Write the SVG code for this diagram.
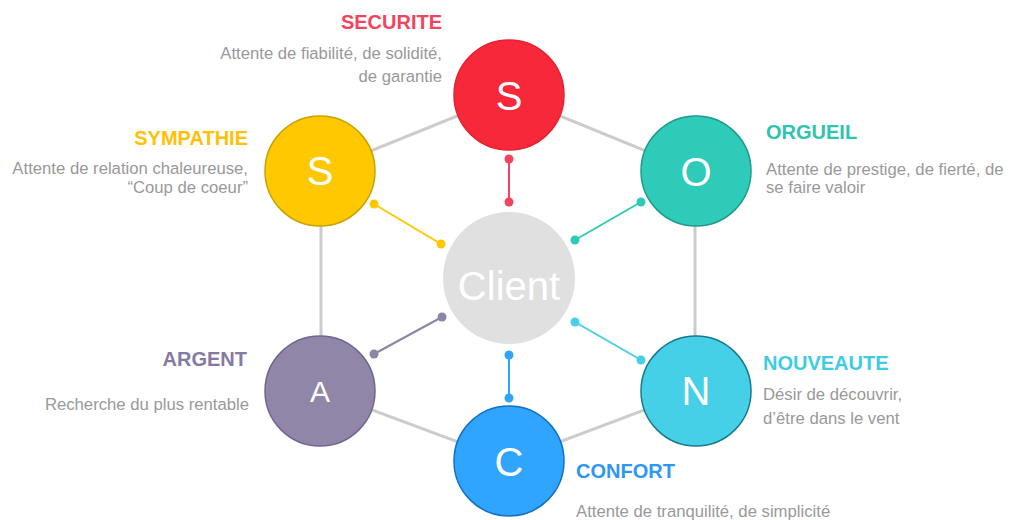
<svg xmlns="http://www.w3.org/2000/svg" width="1018" height="520" viewBox="0 0 1018 520">
<style>
text{font-family:"Liberation Sans",Arial,sans-serif}
.t{font-size:20px;font-weight:bold}
.d{font-size:16.7px;fill:#999999}
.L{fill:#ffffff;text-anchor:middle}
.hex{stroke:#cccccc;stroke-width:3;fill:none}
.sp{stroke-width:2;fill:none}
.node circle{stroke-width:1.5}
</style>
<rect width="1018" height="520" fill="#ffffff"/>
<g id="connectors">
<path class="hex" d="M509 95 L321 171 L321 391 L509 461 L695 391 L695 171 Z"/>
<g>
<line class="sp" x1="509" y1="159" x2="509" y2="202" stroke="#F2445F"/>
<circle cx="509" cy="159" r="4.5" fill="#F2445F"/><circle cx="509" cy="202" r="4.5" fill="#F2445F"/>
<line class="sp" x1="374" y1="204" x2="441" y2="244" stroke="#FFC800"/>
<circle cx="374" cy="204" r="4.5" fill="#FFC800"/><circle cx="441" cy="244" r="4.5" fill="#FFC800"/>
<line class="sp" x1="641" y1="202" x2="575" y2="240" stroke="#2DCBB8"/>
<circle cx="641" cy="202" r="4.5" fill="#2DCBB8"/><circle cx="575" cy="240" r="4.5" fill="#2DCBB8"/>
<line class="sp" x1="374" y1="354" x2="442" y2="317" stroke="#8E85A6"/>
<circle cx="374" cy="354" r="4.5" fill="#8E85A6"/><circle cx="442" cy="317" r="4.5" fill="#8E85A6"/>
<line class="sp" x1="575" y1="322" x2="641" y2="360" stroke="#45D0E8"/>
<circle cx="575" cy="322" r="4.5" fill="#45D0E8"/><circle cx="641" cy="360" r="4.5" fill="#45D0E8"/>
<line class="sp" x1="509" y1="355" x2="509" y2="398" stroke="#30A5FF"/>
<circle cx="509" cy="355" r="4.5" fill="#30A5FF"/><circle cx="509" cy="398" r="4.5" fill="#30A5FF"/>
</g>
</g>
<g id="client" class="node">
<circle cx="509" cy="278" r="66" fill="#E0E0E0" stroke="none"/>
<text class="L" x="509" y="300" font-size="40">Client</text>
</g>
<g id="securite" class="node">
<circle cx="509" cy="95" r="55" fill="#F72839" stroke="#E32232"/>
<text class="L" x="509" y="110" font-size="40">S</text>
<text class="t" x="442" y="29" fill="#F2445F" text-anchor="end">SECURITE</text>
<text class="d" x="442" y="59" text-anchor="end">Attente de fiabilité, de solidité,</text>
<text class="d" x="442" y="82" text-anchor="end">de garantie</text>
</g>
<g id="sympathie" class="node">
<circle cx="320" cy="171" r="55" fill="#FFC800" stroke="#C9A200"/>
<text class="L" x="320" y="185" font-size="40">S</text>
<text class="t" x="248" y="145" fill="#FFC107" text-anchor="end">SYMPATHIE</text>
<text class="d" x="248" y="174" text-anchor="end">Attente de relation chaleureuse,</text>
<text class="d" x="248" y="193" text-anchor="end">“Coup de coeur”</text>
</g>
<g id="orgueil" class="node">
<circle cx="696" cy="171" r="55" fill="#2DCBB8" stroke="#1E9A8A"/>
<text class="L" x="696" y="186" font-size="40">O</text>
<text class="t" x="766" y="139" fill="#2EC4AE">ORGUEIL</text>
<text class="d" x="766" y="175" >Attente de prestige, de fierté, de</text>
<text class="d" x="766" y="193" >se faire valoir</text>
</g>
<g id="argent" class="node">
<circle cx="320" cy="391" r="55" fill="#9087A8" stroke="#6E6690"/>
<text class="L" x="320" y="402" font-size="30">A</text>
<text class="t" x="247" y="366" fill="#857AA0" text-anchor="end">ARGENT</text>
<text class="d" x="249" y="410" text-anchor="end">Recherche du plus rentable</text>
</g>
<g id="nouveaute" class="node">
<circle cx="696" cy="391" r="55" fill="#45D0E8" stroke="#177B8C"/>
<text class="L" x="696" y="405" font-size="40">N</text>
<text class="t" x="763" y="370" fill="#3ECCE3">NOUVEAUTE</text>
<text class="d" x="763" y="400">Désir de découvrir,</text>
<text class="d" x="763" y="424">d’être dans le vent</text>
</g>
<g id="confort" class="node">
<circle cx="509" cy="461" r="55" fill="#30A5FF" stroke="#1370C6"/>
<text class="L" x="509" y="476" font-size="40">C</text>
<text class="t" x="576" y="478" fill="#2E96F5">CONFORT</text>
<text class="d" x="576" y="517">Attente de tranquilité, de simplicité</text>
</g>
</svg>
